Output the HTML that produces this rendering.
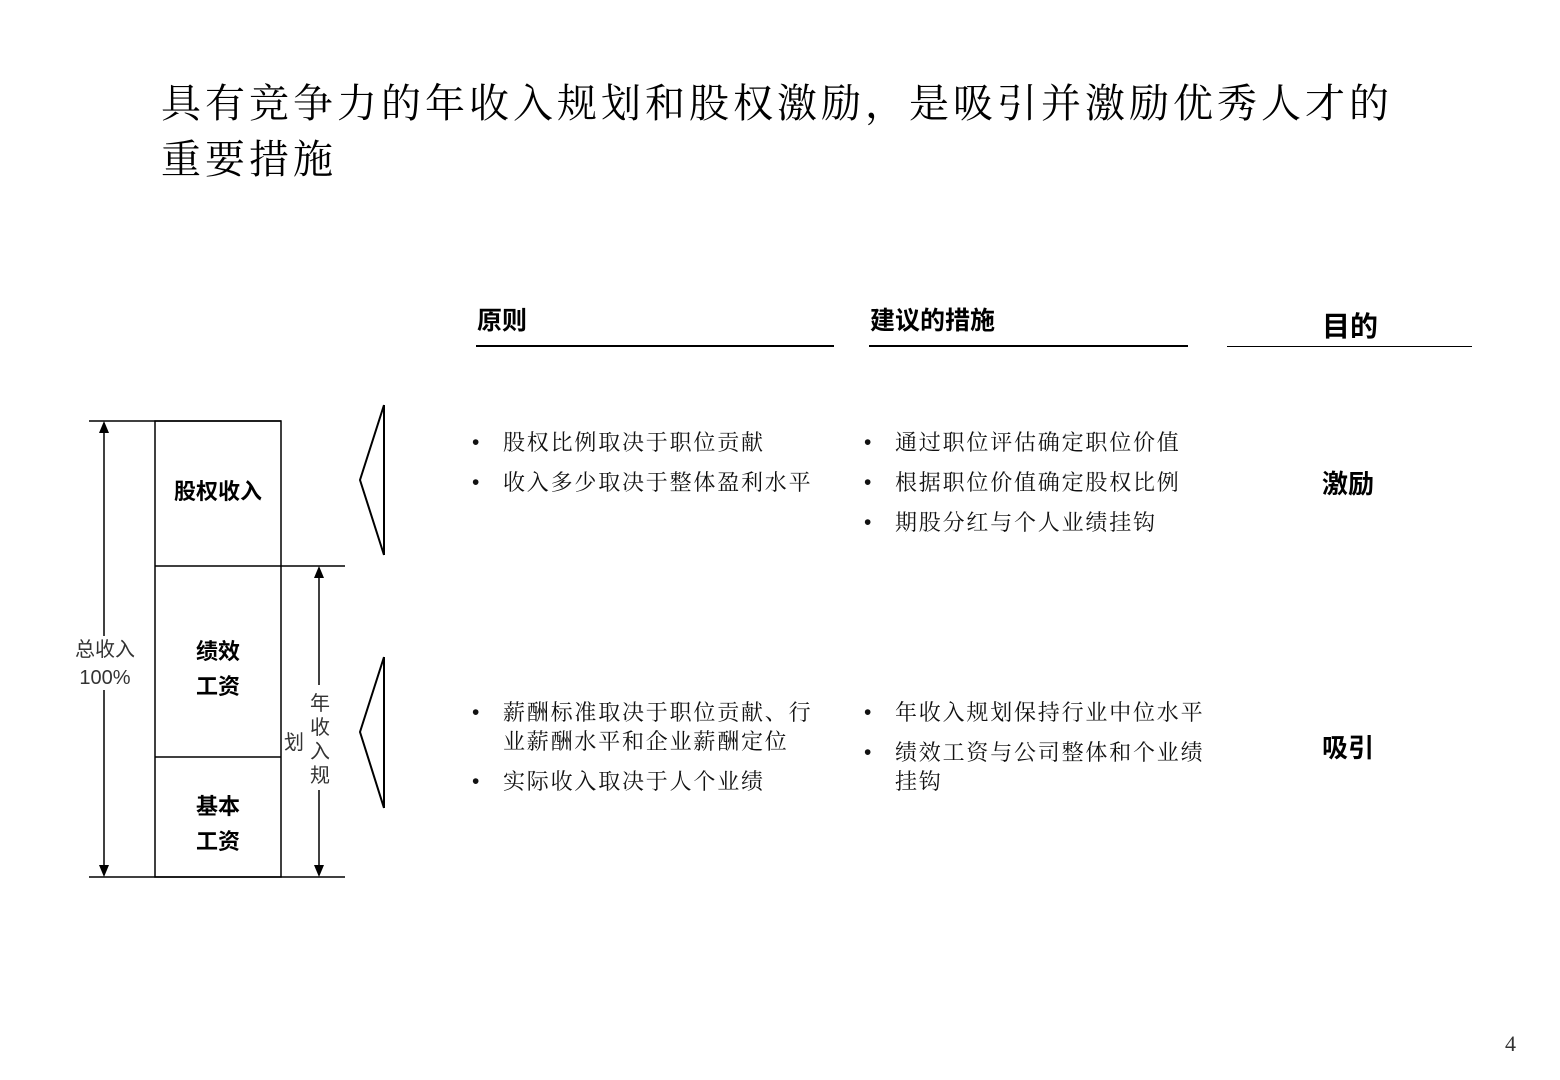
<!DOCTYPE html>
<html><head><meta charset="utf-8"><style>
body{margin:0;width:1560px;height:1080px;background:#fff;position:relative;overflow:hidden;font-family:"Liberation Sans","Noto Sans CJK SC",sans-serif;color:#000}
.a{position:absolute;white-space:nowrap}
.title{font-family:"Liberation Serif","Noto Serif CJK SC",serif;font-size:40px;letter-spacing:4px;line-height:56px;left:161px;top:76px}
.h{font-size:25px;font-weight:bold;top:301px}
.b{font-family:"Liberation Serif","Noto Serif CJK SC",serif;font-size:22px;letter-spacing:1.8px;line-height:29px;color:#111}
.b div{position:relative;padding-left:32px;margin-bottom:11px}
.b div:before{content:"•";position:absolute;left:1px;top:0;font-family:"Liberation Sans",sans-serif;font-size:21px}
.p{font-size:26px;font-weight:bold}
.lab{font-size:22px;font-weight:bold;text-align:center}
</style></head><body>
<div class="a title">具有竞争力的年收入规划和股权激励，是吸引并激励优秀人才的<br>重要措施</div>
<div class="a h" style="left:477px">原则</div>
<div class="a h" style="left:870px">建议的措施</div>
<div class="a h" style="left:1322px;top:305px;font-size:28px">目的</div>
<div class="a" style="left:476px;top:345px;width:358px;height:2px;background:#000"></div>
<div class="a" style="left:869px;top:345px;width:319px;height:2px;background:#000"></div>
<div class="a" style="left:1227px;top:346px;width:245px;height:1px;background:#000"></div>

<div class="a b" style="left:471px;top:428px"><div>股权比例取决于职位贡献</div><div>收入多少取决于整体盈利水平</div></div>
<div class="a b" style="left:863px;top:428px"><div>通过职位评估确定职位价值</div><div>根据职位价值确定股权比例</div><div>期股分红与个人业绩挂钩</div></div>
<div class="a b" style="left:471px;top:698px"><div>薪酬标准取决于职位贡献、行<br>业薪酬水平和企业薪酬定位</div><div>实际收入取决于人个业绩</div></div>
<div class="a b" style="left:863px;top:698px"><div>年收入规划保持行业中位水平</div><div>绩效工资与公司整体和个业绩<br>挂钩</div></div>
<div class="a p" style="left:1322px;top:464px">激励</div>
<div class="a p" style="left:1322px;top:728px">吸引</div>

<svg class="a" style="left:0;top:0" width="1560" height="1080">
<g stroke="#000" stroke-width="1.5" fill="none">
<line x1="89" y1="421" x2="281" y2="421"/>
<rect x="155" y="421" width="126" height="456"/>
<line x1="155" y1="566" x2="345" y2="566"/>
<line x1="155" y1="757" x2="281" y2="757"/>
<line x1="89" y1="877" x2="345" y2="877"/>
<line x1="104" y1="430" x2="104" y2="868"/>
<line x1="319" y1="575" x2="319" y2="868"/>
<polyline points="384,405 360,480 384,555" stroke-width="2"/>
<line x1="384" y1="405" x2="384" y2="555" stroke-width="2"/>
<polyline points="384,657 360,732 384,808" stroke-width="2"/>
<line x1="384" y1="657" x2="384" y2="808" stroke-width="2"/>
</g>
<g fill="#000">
<polygon points="104,421 99,433 109,433"/><polygon points="104,877 99,865 109,865"/>
<polygon points="319,566 314,578 324,578"/><polygon points="319,877 314,865 324,865"/>
</g>
<rect x="282" y="685" width="52" height="105" fill="#fff"/>
<rect x="74" y="636" width="62" height="54" fill="#fff"/>
</svg>
<div class="a" style="left:72px;top:636px;font-size:20px;color:#333;text-align:center;line-height:28px;width:66px">总收入<br>100%</div>
<div class="a lab" style="left:155px;top:474px;width:126px">股权收入</div>
<div class="a lab" style="left:155px;top:634px;width:126px;line-height:35px">绩效<br>工资</div>
<div class="a lab" style="left:155px;top:789px;width:126px;line-height:35px">基本<br>工资</div>
<div class="a" style="left:308px;top:692px;font-size:20px;color:#333;line-height:24px;width:24px;text-align:center">年<br>收<br>入<br>规</div>
<div class="a" style="left:284px;top:726px;font-size:20px;color:#333">划</div>
<div class="a" style="left:1505px;top:1031px;font-family:'Liberation Serif',serif;font-size:22px;color:#333">4</div>
</body></html>
